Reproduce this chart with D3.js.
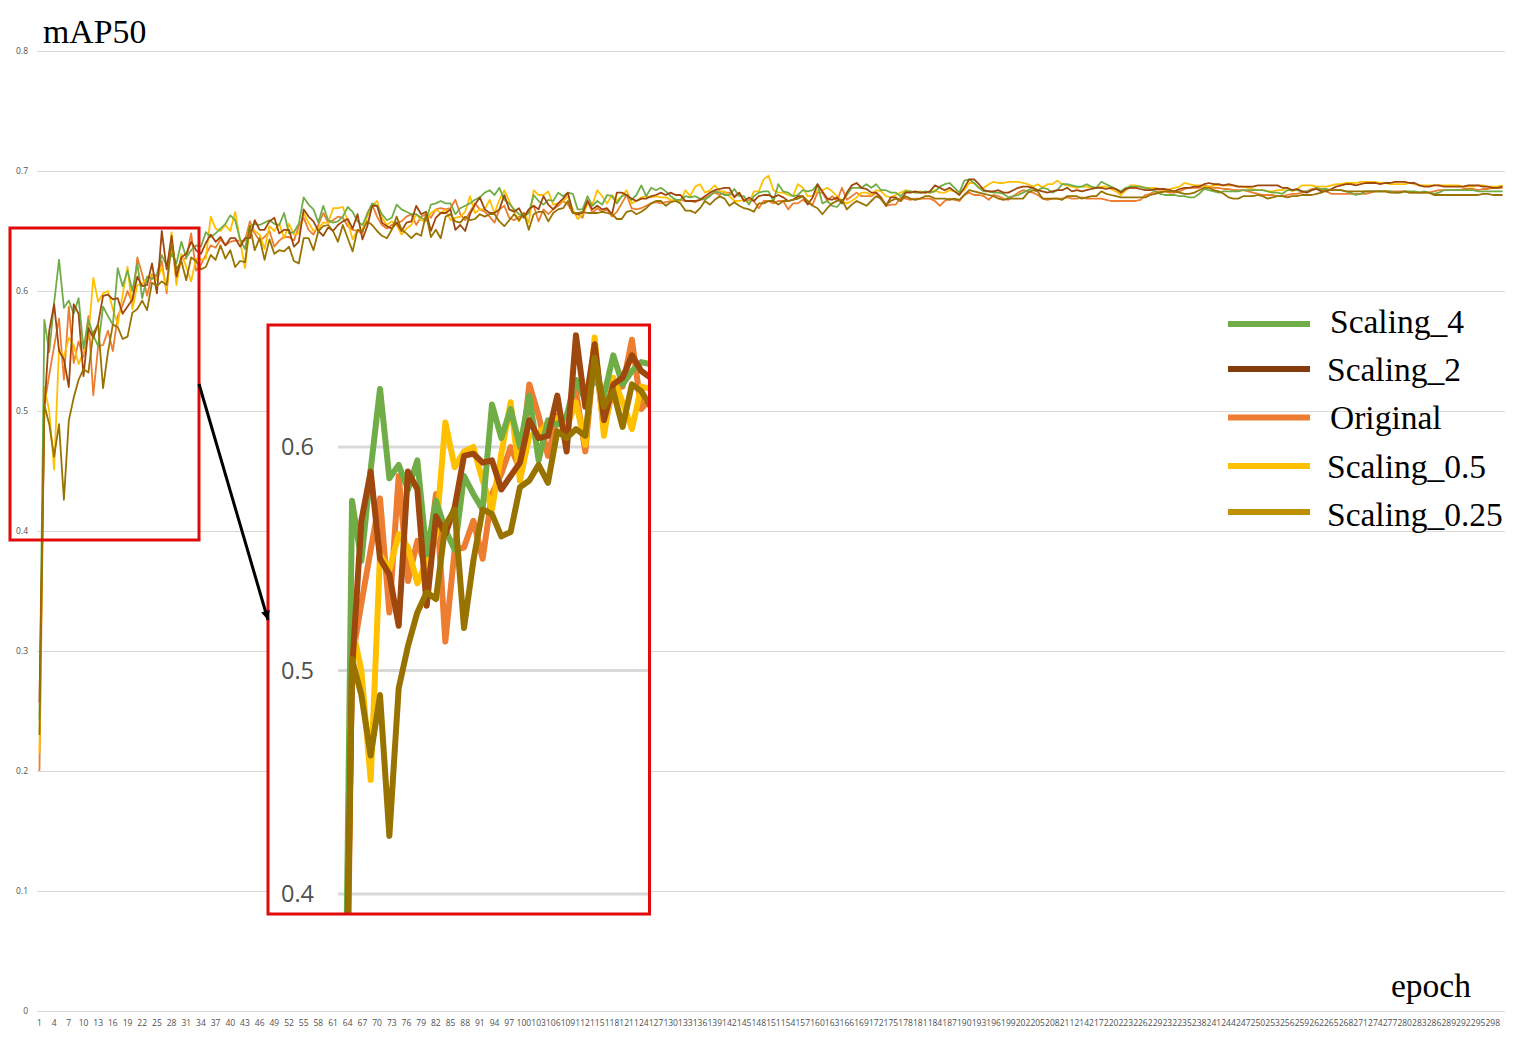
<!DOCTYPE html>
<html>
<head>
<meta charset="utf-8">
<script src="https://cdnjs.cloudflare.com/ajax/libs/d3/7.8.5/d3.min.js"></script>
<style>
html,body{margin:0;padding:0;background:#fff;overflow:hidden}
svg{display:block}
.tick text{font-family:"Open Sans",sans-serif;fill:#505050}
</style>
</head>
<body>
<svg id="chart" width="1525" height="1042"></svg>
<script>
const scaling4 = [
.243,.576,.549,.590,.626,.586,.592,.581,.594,.552,
.576,.563,.554,.587,.579,.572,.619,.604,.617,.600,
.623,.594,.612,.610,.614,.630,.621,.631,.623,.641,
.628,.634,.638,.637,.649,.645,.648,.652,.656,.663,
.659,.643,.635,.654,.656,.655,.657,.659,.656,.655,
.665,.648,.649,.656,
.678,.672,.668,.657,.671,.659,.657,.658,.662,.670,
.666,.658,.655,.664,.673,.671,.664,.659,.661,.672,
.668,.666,.664,.664,.661,.659,.672,.673,.675,.673,
.673,.664,.669,.671,.673,.676,.678,.682,.684,.680,
.686,.676,.673,.668,.664,.662,.665,.680,.675,.672,
.676,.675,.682,.679,.682,.681,.668,.668,.679,.671,
.675,.672,.680,.679,.673,.679,.680,.676,.680,.688,
.679,.686,.684,.686,.683,.679,.676,.676,.679,.678,
.679,.677,
.676,.679,.683,.682,.680,.680,.685,.679,.679,.672,
.679,.682,.683,.683,.675,.689,.683,.682,.679,.680,
.684,.683,.684,.689,.673,.675,.671,.670,.675,.680,
.686,.686,.686,.689,.686,.689,.684,.684,.682,.682,
.679,.683,.683,.682,.682,.683,.682,.683,.687,.689,
.690,.686,.682,.692,.693,.690,.686,.683,.683,.682,
.682,.681,.678,.679,.680,.682,.684,.686,.684,.686,
.685,.682,.684,.689,.689,.688,.687,.687,.689,.687,
.686,
.691,.689,.687,.685,.683,.686,.687,.687,.687,.686,
.685,.683,.681,.680,.680,.680,.679,.679,.678,.678,
.681,.685,.684,.683,.682,.683,.683,.683,.683,.684,
.684,.684,.684,.684,.683,.682,.682,.681,.684,.684,
.684,.683,.683,.684,.686,.685,.685,.684,.684,.684,
.683,.682,.680,.681,.683,.683,.683,.683,.683,.683,
.682,.682,.683,.683,.683,.682,.683,.682,.681,.682,
.684,.684,.684,.684,.684,.684,.684,.683,.683,.683,
.683,.683,.683];

const scaling2 = [
.257,.500,.567,.589,.550,.543,.520,.589,.581,.529,
.569,.561,.573,.596,.597,.593,.594,.581,.587,.593,
.612,.604,.605,.623,.598,.650,.618,.646,.612,.628,
.631,.641,.634,.631,.640,.647,.641,.645,.638,.644,
.644,.637,.644,.644,.659,.651,.651,.658,.661,.648,
.651,.651,.637,.641,
.668,.662,.658,.650,.646,.653,.650,.655,.658,.660,
.652,.664,.643,.654,.671,.671,.657,.654,.652,.657,
.650,.657,.658,.671,.664,.666,.650,.661,.665,.665,
.668,.651,.655,.650,.664,.672,.678,.668,.665,.665,
.668,.680,.668,.666,.669,.661,.668,.671,.668,.679,
.672,.668,.673,.677,.682,.665,.664,.665,.675,.668,
.671,.668,.669,.664,.682,.682,.680,.677,.675,.677,
.677,.679,.680,.682,.680,.682,.680,.680,.675,.675,
.675,.676,
.679,.682,.684,.685,.686,.686,.678,.682,.675,.678,
.675,.679,.680,.680,.678,.680,.678,.675,.676,.679,
.679,.672,.678,.689,.683,.677,.676,.678,.673,.682,
.688,.690,.686,.685,.682,.682,.678,.671,.678,.678,
.675,.682,.682,.683,.682,.682,.683,.688,.686,.684,
.686,.683,.680,.686,.693,.693,.689,.684,.683,.683,
.684,.682,.682,.684,.686,.687,.687,.686,.684,.683,
.682,.683,.684,.684,.686,.683,.684,.683,.684,.685,
.686,
.686,.685,.686,.685,.682,.685,.686,.686,.685,.684,
.684,.685,.685,.685,.684,.683,.685,.686,.686,.687,
.687,.689,.690,.689,.689,.688,.689,.688,.687,.687,
.687,.687,.688,.688,.688,.688,.688,.686,.686,.684,
.685,.683,.682,.684,.685,.683,.683,.685,.687,.688,
.689,.689,.688,.689,.690,.690,.690,.689,.690,.690,
.691,.691,.691,.690,.690,.688,.687,.687,.688,.688,
.687,.687,.687,.687,.687,.688,.688,.688,.687,.687,
.686,.686,.687];

const original = [
.200,.505,.530,.554,.577,.526,.587,.540,.558,.545,
.579,.513,.554,.555,.567,.550,.579,.588,.600,.590,
.628,.614,.596,.614,.612,.625,.598,.643,.608,.627,
.627,.648,.617,.622,.630,.638,.636,.643,.638,.641,
.642,.642,.642,.658,.648,.642,.645,.650,.637,.642,
.645,.645,.642,.654,
.661,.651,.647,.655,.665,.657,.659,.662,.661,.654,
.651,.650,.648,.665,.672,.662,.655,.652,.655,.657,
.658,.662,.664,.655,.662,.664,.661,.668,.669,.668,
.669,.676,.664,.659,.666,.673,.668,.666,.662,.657,
.668,.671,.661,.659,.662,.662,.668,.671,.658,.668,
.664,.668,.671,.675,.672,.665,.664,.661,.676,.665,
.669,.666,.668,.662,.666,.673,.680,.669,.668,.669,
.671,.673,.674,.673,.674,.675,.676,.676,.675,.675,
.674,.676,
.677,.680,.682,.680,.682,.682,.679,.682,.675,.676,
.675,.669,.675,.675,.673,.675,.675,.668,.673,.673,
.676,.673,.672,.682,.682,.675,.679,.675,.686,.676,
.679,.682,.679,.679,.679,.682,.676,.671,.672,.672,
.678,.677,.676,.677,.677,.677,.677,.675,.671,.675,
.677,.676,.675,.680,.682,.680,.680,.679,.676,.680,
.679,.677,.676,.679,.682,.684,.683,.682,.680,.677,
.676,.677,.677,.677,.678,.677,.677,.678,.677,.677,
.677,
.677,.676,.675,.675,.675,.675,.675,.675,.676,.680,
.681,.683,.683,.683,.682,.682,.683,.685,.686,.686,
.686,.688,.687,.686,.686,.685,.685,.684,.684,.684,
.683,.682,.681,.680,.680,.680,.679,.679,.680,.681,
.681,.682,.683,.685,.686,.684,.683,.681,.681,.681,
.681,.681,.681,.681,.681,.682,.683,.683,.683,.683,
.683,.683,.683,.682,.682,.682,.682,.682,.683,.684,
.684,.684,.684,.684,.685,.685,.685,.684,.685,.685,
.686,.686,.686];

const scaling05 = [
.215,.520,.500,.451,.552,.545,.561,.555,.539,.549,
.561,.611,.591,.598,.600,.585,.572,.597,.620,.585,
.605,.606,.611,.613,.609,.620,.601,.649,.605,.631,
.620,.608,.627,.626,.627,.662,.652,.650,.655,.650,
.666,.642,.619,.655,.650,.647,.635,.654,.650,.656,
.644,.656,.647,.648,
.665,.657,.650,.652,.657,.657,.669,.669,.670,.658,
.643,.651,.651,.662,.671,.675,.661,.655,.658,.655,
.647,.652,.655,.664,.659,.658,.665,.668,.665,.668,
.659,.661,.662,.666,.679,.665,.668,.668,.676,.665,
.676,.684,.675,.666,.658,.665,.657,.684,.680,.680,
.683,.672,.673,.675,.679,.668,.660,.664,.672,.672,
.684,.679,.673,.680,.675,.679,.684,.673,.675,.678,
.679,.678,.679,.678,.678,.676,.675,.675,.684,.679,
.687,.689,
.682,.684,.688,.683,.683,.679,.675,.675,.676,.673,
.683,.683,.693,.696,.684,.682,.682,.680,.679,.689,
.686,.679,.679,.684,.684,.686,.683,.679,.675,.673,
.675,.678,.682,.682,.680,.684,.683,.679,.678,.680,
.682,.684,.683,.682,.683,.682,.682,.684,.682,.682,
.684,.683,.682,.684,.690,.690,.686,.686,.689,.691,
.690,.690,.691,.691,.691,.690,.689,.687,.689,.686,
.689,.689,.692,.689,.688,.687,.686,.687,.687,.686,
.686,
.687,.687,.685,.683,.680,.684,.688,.688,.687,.686,
.686,.686,.685,.684,.685,.686,.687,.690,.689,.688,
.688,.687,.687,.688,.688,.688,.688,.688,.687,.687,
.686,.685,.684,.684,.683,.683,.684,.684,.686,.683,
.685,.688,.688,.688,.687,.687,.687,.688,.689,.689,
.690,.690,.690,.691,.691,.691,.691,.690,.690,.689,
.689,.689,.689,.690,.689,.688,.688,.688,.688,.688,
.688,.688,.688,.688,.687,.687,.687,.688,.688,.687,
.687,.687,.688];

const scaling025 = [
.230,.505,.489,.462,.489,.426,.492,.511,.526,.535,
.532,.565,.572,.519,.549,.572,.570,.560,.562,.582,
.585,.592,.584,.607,.604,.608,.605,.640,.618,.625,
.609,.628,.625,.618,.620,.630,.626,.638,.627,.634,
.620,.625,.624,.654,.634,.644,.626,.643,.631,.634,
.633,.637,.625,.623,
.644,.644,.634,.650,.654,.655,.650,.641,.655,.644,
.633,.651,.650,.658,.655,.650,.646,.644,.651,.662,
.651,.648,.644,.648,.646,.664,.645,.651,.644,.662,
.664,.658,.657,.662,.659,.660,.664,.662,.664,.664,
.658,.654,.659,.664,.659,.665,.651,.664,.666,.666,
.658,.665,.668,.669,.675,.665,.665,.666,.665,.665,
.665,.666,.665,.664,.660,.660,.666,.667,.664,.666,
.669,.673,.675,.675,.671,.674,.675,.673,.667,.667,
.665,.669,
.675,.672,.676,.679,.677,.671,.674,.671,.669,.668,
.666,.673,.673,.675,.675,.672,.675,.675,.676,.677,
.679,.675,.671,.669,.664,.669,.673,.675,.676,.668,
.672,.675,.673,.671,.675,.679,.677,.672,.675,.677,
.675,.679,.677,.676,.677,.679,.679,.677,.677,.677,
.676,.677,.676,.680,.684,.683,.682,.681,.680,.679,
.677,.676,.677,.677,.677,.677,.682,.684,.683,.677,
.677,.677,.677,.676,.679,.679,.679,.677,.678,.679,
.679,
.683,.681,.680,.679,.678,.678,.678,.678,.678,.678,
.680,.681,.682,.683,.683,.683,.682,.681,.681,.682,
.684,.686,.686,.684,.683,.681,.678,.677,.677,.679,
.679,.679,.680,.679,.677,.678,.679,.679,.678,.679,
.679,.680,.680,.680,.681,.682,.684,.684,.684,.684,
.683,.683,.683,.683,.683,.683,.683,.683,.683,.682,
.682,.682,.683,.682,.682,.682,.682,.682,.680,.680,
.680,.680,.680,.680,.680,.680,.680,.680,.681,.681,
.680,.680,.680];

const epochs = scaling4.map((_, i) => i + 1);
const yTicks = [0, 0.1, 0.2, 0.3, 0.4, 0.5, 0.6, 0.7, 0.8];
const insetTicks = [0.4, 0.5, 0.6];

// Paint order follows the reference: olive on top, orange at the bottom.
const drawOrder = [
  {values: original,   color: "#ED7D31"},
  {values: scaling05,  color: "#FFC000"},
  {values: scaling4,   color: "#70AD47"},
  {values: scaling2,   color: "#9E480E"},
  {values: scaling025, color: "#997300"}
];
const legendItems = [
  {name: "Scaling_4",    color: "#70AD47", ly: 324,   tx: 1330, ty: 333},
  {name: "Scaling_2",    color: "#843C0C", ly: 369,   tx: 1327, ty: 381},
  {name: "Original",     color: "#ED7D31", ly: 417.5, tx: 1330, ty: 429},
  {name: "Scaling_0.5",  color: "#FFC000", ly: 466,   tx: 1327, ty: 478},
  {name: "Scaling_0.25", color: "#BF9000", ly: 512,   tx: 1327, ty: 526}
];

const svg = d3.select("#chart");
const serif = '"Liberation Serif","Times New Roman",serif';
const grid = "#d9d9d9", red = "#e20a0a";

// ---- main chart ----
const x = d3.scaleBand().domain(epochs).range([37, 1505]);
const cx = e => x(e) + x.bandwidth() / 2;
const y = d3.scaleLinear().domain([0, 0.8]).range([1011, 51]);

svg.append("g").selectAll("line").data(yTicks).join("line")
  .attr("x1", 37).attr("x2", 1505)
  .attr("y1", d => Math.round(y(d)) + 0.5).attr("y2", d => Math.round(y(d)) + 0.5)
  .attr("stroke", grid).attr("stroke-width", 1);

const yAxis = svg.append("g").attr("transform", "translate(28,0)")
  .call(d3.axisLeft(y).tickValues(yTicks).tickSize(0).tickPadding(0).tickFormat(d => d === 0 ? "0" : d3.format(".1f")(d)));
yAxis.select(".domain").remove();
yAxis.selectAll("text").style("font-size", "8.5px");

const xAxis = svg.append("g").attr("transform", "translate(0,1011)")
  .call(d3.axisBottom(x).tickValues(epochs.filter(e => (e - 1) % 3 === 0)).tickSize(0).tickPadding(9));
xAxis.select(".domain").remove();
xAxis.selectAll("text").style("font-size", "8.5px");

const mainLine = d3.line().x((d, i) => cx(epochs[i])).y(d => y(d));
svg.append("g").selectAll("path").data(drawOrder).join("path")
  .attr("d", s => mainLine(s.values))
  .attr("fill", "none").attr("stroke", s => s.color)
  .attr("stroke-width", 1.8).attr("stroke-linejoin", "round");

// ---- highlight box and arrow ----
svg.append("rect").attr("x", 10).attr("y", 228).attr("width", 189).attr("height", 312)
  .attr("fill", "none").attr("stroke", red).attr("stroke-width", 3);

// ---- inset ----
const insetBox = {x: 268, y: 325, w: 381.5, h: 589};
svg.append("rect").attr("x", insetBox.x).attr("y", insetBox.y)
  .attr("width", insetBox.w).attr("height", insetBox.h).attr("fill", "#fff");
const ix = d3.scaleLinear().domain([1, 34]).range([342.7, 650.6]);
const iy = d3.scaleLinear().domain([0.4, 0.6]).range([894, 447]);

svg.append("g").selectAll("line").data(insetTicks).join("line")
  .attr("x1", 338).attr("x2", insetBox.x + insetBox.w)
  .attr("y1", d => iy(d)).attr("y2", d => iy(d))
  .attr("stroke", grid).attr("stroke-width", 3);

const iAxis = svg.append("g").attr("transform", "translate(314,0)")
  .call(d3.axisLeft(iy).tickValues(insetTicks).tickSize(0).tickPadding(0).tickFormat(d3.format(".1f")));
iAxis.select(".domain").remove();
iAxis.selectAll("text").style("font-size", "23.5px");

svg.append("clipPath").attr("id", "insetClip").append("rect")
  .attr("x", insetBox.x).attr("y", insetBox.y).attr("width", insetBox.w).attr("height", insetBox.h);
const insetLine = d3.line().x((d, i) => ix(epochs[i])).y(d => iy(d));
svg.append("g").attr("clip-path", "url(#insetClip)").selectAll("path").data(drawOrder).join("path")
  .attr("d", s => insetLine(s.values.slice(0, 35)))
  .attr("fill", "none").attr("stroke", s => s.color)
  .attr("stroke-width", 6).attr("stroke-linejoin", "round");

svg.append("rect").attr("x", insetBox.x).attr("y", insetBox.y)
  .attr("width", insetBox.w).attr("height", insetBox.h)
  .attr("fill", "none").attr("stroke", red).attr("stroke-width", 3);

svg.append("defs").append("marker").attr("id", "head").attr("viewBox", "0 0 10 10")
  .attr("refX", 10).attr("refY", 5).attr("markerWidth", 12).attr("markerHeight", 9)
  .attr("markerUnits", "userSpaceOnUse").attr("orient", "auto")
  .append("path").attr("d", "M0,0L10,5L0,10Z").attr("fill", "#000");
svg.append("line").attr("x1", 199).attr("y1", 384).attr("x2", 268).attr("y2", 620)
  .attr("stroke", "#000").attr("stroke-width", 3).attr("marker-end", "url(#head)");

// ---- titles ----
svg.append("text").text("mAP50").attr("x", 43).attr("y", 43)
  .attr("font-family", serif).attr("font-size", 33.8).attr("fill", "#000");
svg.append("text").text("epoch").attr("x", 1391).attr("y", 997)
  .attr("font-family", serif).attr("font-size", 33.5).attr("fill", "#000");

// ---- legend ----
const lg = svg.append("g").selectAll("g").data(legendItems).join("g");
lg.append("line").attr("x1", 1228).attr("x2", 1310)
  .attr("y1", d => d.ly).attr("y2", d => d.ly)
  .attr("stroke", d => d.color).attr("stroke-width", 6);
lg.append("text").text(d => d.name).attr("x", d => d.tx).attr("y", d => d.ty)
  .attr("font-family", serif).attr("font-size", 33.5).attr("fill", "#000");
</script>
</body>
</html>
